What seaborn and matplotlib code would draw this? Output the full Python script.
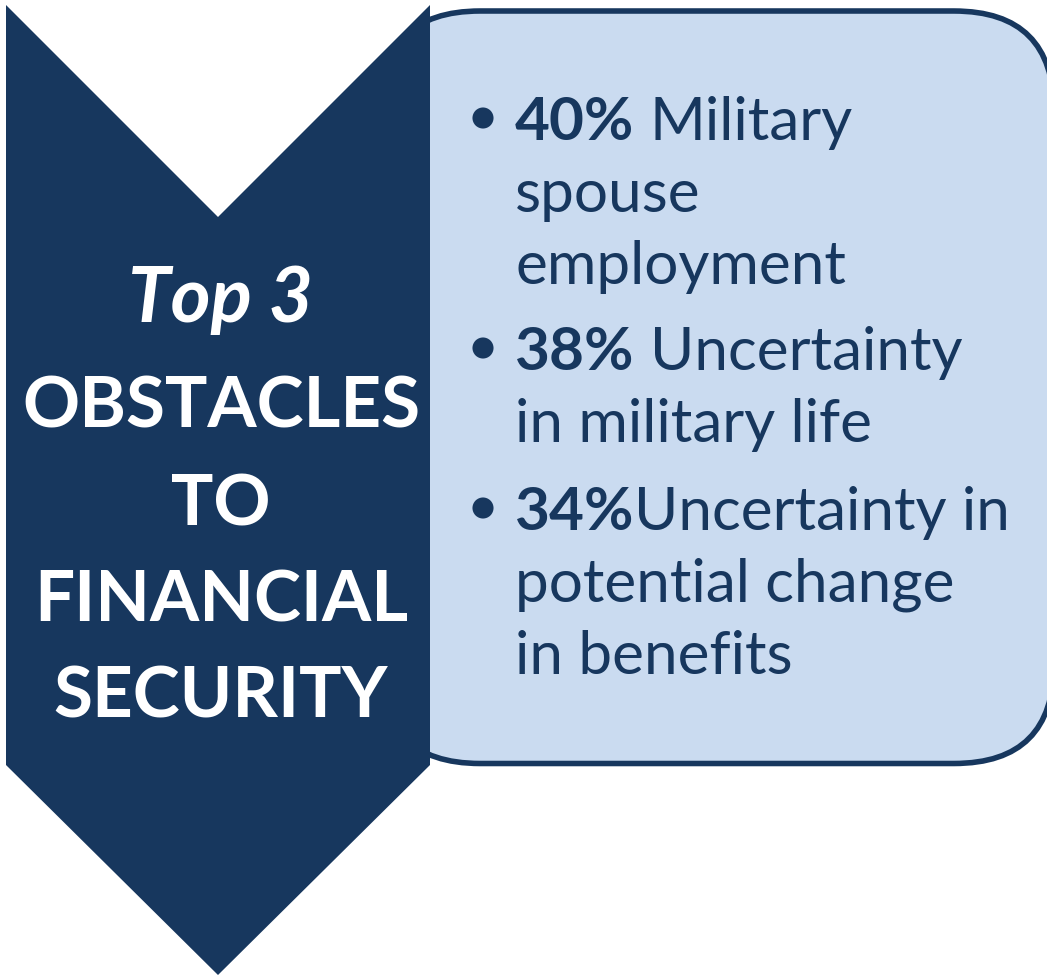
import matplotlib
matplotlib.use("Agg")
import matplotlib.pyplot as plt
from matplotlib import font_manager
from matplotlib.patches import Polygon, FancyBboxPatch
import pandas as pd
import seaborn as sns

# ---- content -------------------------------------------------------------
title_lines = ["Top 3", "OBSTACLES", "TO", "FINANCIAL", "SECURITY"]
shares = ["40%", "38%", "34%"]
first_lines = ["Military", "Uncertainty", "Uncertainty in"]
joiners = [" ", " ", ""]
more_lines = [["spouse", "employment"], ["in military life"],
              ["potential change", "in benefits"]]

NAVY = "#17375E"
PALE = "#CADBF0"
W, H = 1047, 976

sns.set_theme(style="white")
plt.rcParams["font.family"] = ["Lato", "DejaVu Sans"]


def pick_italic_family(candidates):
    for fam in candidates:
        for f in font_manager.fontManager.ttflist:
            if f.name == fam and f.style == "italic":
                return fam
    return candidates[-1]


italic_family = pick_italic_family(["Lato", "Open Sans", "Noto Sans", "DejaVu Sans"])

fig = plt.figure(figsize=(W / 100, H / 100), dpi=100)
ax = fig.add_axes([0, 0, 1, 1])
ax.set_xlim(0, W)
ax.set_ylim(H, 0)
ax.axis("off")
renderer = fig.canvas.get_renderer()


def width_px(t):
    return t.get_window_extent(renderer).width


# rounded panel behind the list (its right side runs past the frame)
panel = FancyBboxPatch((380, 11), 674, 752.5,
                       boxstyle="round,pad=0,rounding_size=100",
                       fc=PALE, ec=NAVY, lw=4.0, zorder=1)
ax.add_patch(panel)

# chevron banner
chevron = Polygon([(6, 5), (218, 217), (430, 5), (430, 765), (218, 975), (6, 765)],
                  closed=True, fc=NAVY, ec="none", zorder=2)
ax.add_patch(chevron)

# ---- banner heading, sized so the widest line fills the banner ----------
probe = ax.text(0, 0, "OBSTACLES", fontsize=50, fontweight="bold")
head_size = 50 * 398 / width_px(probe)
probe.remove()

head_x = 221
head_base = [322, 428, 525, 622, 717]
for i, (line, yb) in enumerate(zip(title_lines, head_base)):
    kw = dict(fontsize=head_size, fontweight="bold", color="white",
              ha="center", va="baseline", zorder=3)
    if i == 0:
        kw.update(fontstyle="italic", family=[italic_family, "DejaVu Sans"],
                  fontsize=head_size * 1.08)
    ax.text(head_x, yb, line, **kw)

# ---- bullet list ---------------------------------------------------------
x_text = 515
p1 = ax.text(0, 0, shares[2], fontsize=40, fontweight="bold")
p2 = ax.text(0, 0, first_lines[2], fontsize=40)
body_size = 40 * 495 / (width_px(p1) + width_px(p2))
p1.remove()
p2.remove()

space = ax.text(0, 0, "n n", fontsize=body_size)
nn = ax.text(0, 0, "nn", fontsize=body_size)
space_px = width_px(space) - width_px(nn)
space.remove()
nn.remove()

line_groups = [[140, 212, 284], [370, 442], [530, 602, 674]]
rows = []
for share, first, join, rest, bases in zip(shares, first_lines, joiners,
                                           more_lines, line_groups):
    tb = ax.text(x_text, bases[0], share, fontsize=body_size, fontweight="bold",
                 color=NAVY, va="baseline", zorder=3)
    gap = space_px if join else 0
    ax.text(x_text + width_px(tb) + gap, bases[0], first, fontsize=body_size,
            color=NAVY, va="baseline", zorder=3)
    for line, yb in zip(rest, bases[1:]):
        ax.text(x_text, yb, line, fontsize=body_size, color=NAVY,
                va="baseline", zorder=3)
    rows.append({"x": 483, "y": bases[0] - 22})

bullets = pd.DataFrame(rows)
sns.scatterplot(data=bullets, x="x", y="y", ax=ax, s=230, color=NAVY,
                edgecolor="none", zorder=4, legend=False)
ax.set_xlim(0, W)
ax.set_ylim(H, 0)
ax.axis("off")

fig.savefig("out.png", dpi=100, facecolor="white")
